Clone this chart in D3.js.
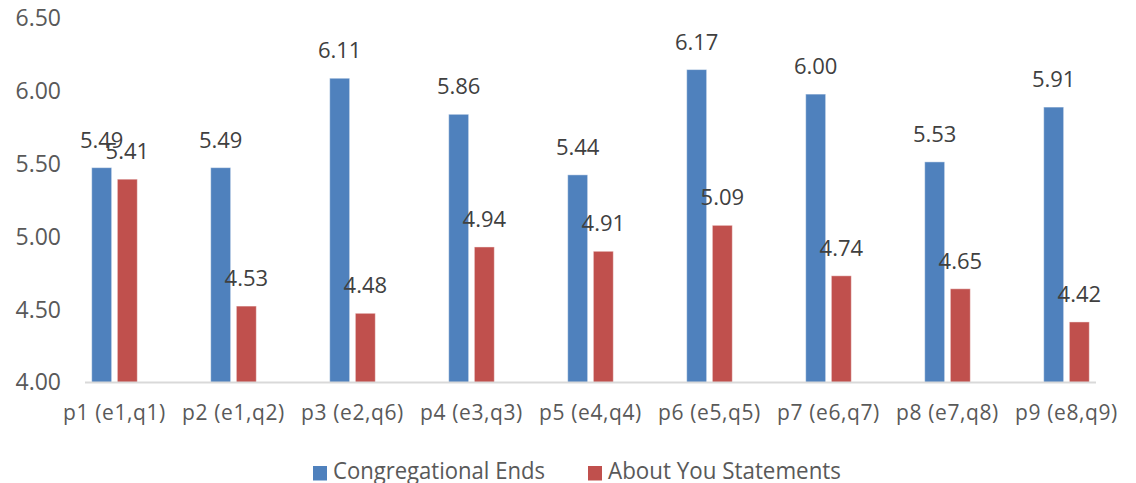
<!DOCTYPE html>
<html lang="en">
<head>
    <meta charset="UTF-8">
    <title>Congregational Ends vs About You Statements</title>
    <script src="https://d3js.org/d3.v7.min.js"></script>
    <style>
        body {
            margin: 0;
            background: #fff;
            font-family: 'Open Sans', sans-serif;
        }
    </style>
</head>
<body>
    <script>
        // Chart data
        const categories = ["p1 (e1,q1)", "p2 (e1,q2)", "p3 (e2,q6)", "p4 (e3,q3)", "p5 (e4,q4)",
                            "p6 (e5,q5)", "p7 (e6,q7)", "p8 (e7,q8)", "p9 (e8,q9)"];
        const seriesNames = ["Congregational Ends", "About You Statements"];
        const congregationalEnds = [5.49, 5.49, 6.11, 5.86, 5.44, 6.17, 6.00, 5.53, 5.91];
        const aboutYou = [5.41, 4.53, 4.48, 4.94, 4.91, 5.09, 4.74, 4.65, 4.42];
        const yTicks = [4.00, 4.50, 5.00, 5.50, 6.00, 6.50];

        const colors = ["#4F81BD", "#C0504D"];
        const width = 1136, height = 483;

        const svg = d3.select("body")
            .append("svg")
            .attr("width", width)
            .attr("height", height);

        // Scales
        const x = d3.scaleBand()
            .domain(categories)
            .range([55, 1126]);

        const xInner = d3.scaleBand()
            .domain([0, 1])
            .range([-22.8, 22.8])
            .paddingInner(0.222);

        const y = d3.scaleLinear()
            .domain([4, 6.5])
            .range([382.5, 22]);

        // Y axis labels (no line, no ticks) - excel puts them a touch higher near the top
        const yAxis = svg.append("g")
            .attr("transform", "translate(61,0)")
            .call(d3.axisLeft(y).tickValues(yTicks).tickFormat(d3.format(".2f")).tickSize(0).tickPadding(0));
        yAxis.select(".domain").remove();
        yAxis.selectAll("text")
            .attr("fill", "#595959")
            .attr("dy", d => (0.32 - (d - 4) * 0.06) + "em")
            .style("font-size", "23px")
            .style("font-family", "'Open Sans', sans-serif");

        // Bars
        const rows = categories.map((c, i) => ({ cat: c, values: [congregationalEnds[i], aboutYou[i]] }));

        const groups = svg.append("g")
            .selectAll("g")
            .data(rows)
            .join("g")
            .attr("transform", d => `translate(${x(d.cat) + x.bandwidth() / 2},0)`);

        groups.selectAll("rect")
            .data(d => d.values.map((v, k) => ({ v, k })))
            .join("rect")
            .attr("x", d => xInner(d.k))
            .attr("width", xInner.bandwidth())
            .attr("y", d => y(d.v))
            .attr("height", d => y(4) - y(d.v))
            .attr("fill", d => colors[d.k])
            .attr("stroke", "rgba(255,255,255,0.45)")
            .attr("stroke-width", 1);

        // Data labels
        groups.selectAll("text")
            .data(d => d.values.map((v, k) => ({ v, k })))
            .join("text")
            .attr("x", d => xInner(d.k) + xInner.bandwidth() / 2)
            .attr("y", d => y(d.v) - 20)
            .attr("text-anchor", "middle")
            .attr("fill", "#404040")
            .style("font-size", "22px")
            .text(d => d.v.toFixed(2));

        // X axis line
        svg.append("line")
            .attr("x1", 85)
            .attr("x2", 1096)
            .attr("y1", y(4))
            .attr("y2", y(4))
            .attr("stroke", "#D9D9D9")
            .attr("stroke-width", 2);

        // Category labels
        svg.append("g")
            .selectAll("text")
            .data(categories)
            .join("text")
            .attr("x", d => x(d) + x.bandwidth() / 2)
            .attr("y", 420)
            .attr("text-anchor", "middle")
            .attr("fill", "#595959")
            .style("font-size", "21px")
            .style("letter-spacing", "0.6px")
            .text(d => d);

        // Legend
        const legendX = [313, 588];
        const legendLen = [212, 233];
        const legend = svg.append("g")
            .selectAll("g")
            .data(seriesNames)
            .join("g")
            .attr("transform", (d, i) => `translate(${legendX[i]},466)`);

        legend.append("rect")
            .attr("width", 14)
            .attr("height", 14.5)
            .attr("fill", (d, i) => colors[i]);

        legend.append("text")
            .attr("x", 20)
            .attr("y", 12.5)
            .attr("fill", "#595959")
            .attr("textLength", (d, i) => legendLen[i])
            .attr("lengthAdjust", "spacingAndGlyphs")
            .style("font-size", "23px")
            .text(d => d);
    </script>
</body>
</html>
